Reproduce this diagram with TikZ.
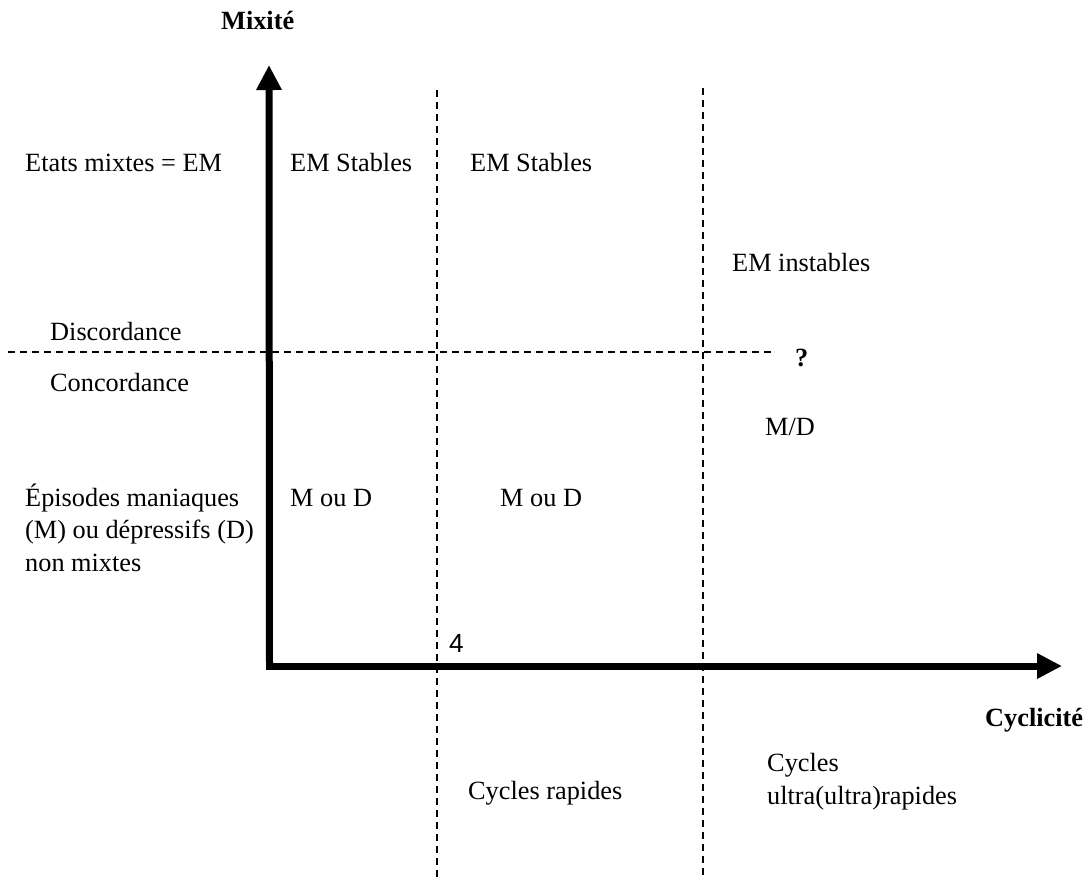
\documentclass[tikz,border=0pt]{standalone}
\usepackage{fontspec}
\setmainfont{Liberation Serif}
\newfontfamily\digitfont{Liberation Sans}
\usepackage{tikz}
\usetikzlibrary{arrows.meta}

\tikzset{
  axis/.style={line width=7pt, -{Triangle[length=25pt,width=24pt]}},
  border/.style={line width=1.3pt, dash pattern=on 7pt off 5pt},
  lbl/.style={anchor=base west, inner sep=0pt, align=left,
    font=\fontsize{26.3}{32.5}\selectfont},
  title/.style={lbl, font=\fontsize{26.3}{32.5}\selectfont\bfseries}
}

\begin{document}
\begin{tikzpicture}[x=1pt, y=-1pt]
        \useasboundingbox (0,0) rectangle (1089,879);

        % axes
        \coordinate (O) at (266,666);
        \coordinate (ytip) at (269,65);
        \coordinate (xtip) at (1062,666);
        \draw[axis] ([xshift=3.5pt]O) -- (ytip);
        \draw[axis] (O) -- (xtip);

        % zone borders
        \coordinate (v1top) at (437,90);
        \coordinate (v1bot) at (437,879);
        \coordinate (v2top) at (703,88);
        \coordinate (v2bot) at (703,879);
        \coordinate (hleft) at (8,352);
        \coordinate (hright) at (773,352);
        \draw[border] (v1top) -- (v1bot);
        \draw[border] (v2top) -- (v2bot);
        \draw[border] (hleft) -- (hright);

        % axis titles
        \node[title] (mix) at (221,29) {Mixité};
        \node[title] (cyc) at (985,726) {Cyclicité};
        \node[title] (qm) at (795,366) {?};

        % left column (multi-line nodes sit on their last line)
        \node[lbl] (em) at (25,171) {Etats mixtes = EM};
        \node[lbl] (disc) at (50,340) {Discordance};
        \node[lbl] (conc) at (50,391) {Concordance};
        \node[lbl] (epi) at (25,571) {Épisodes maniaques\\(M) ou dépressifs (D)\\non mixtes};

        % zones
        \node[lbl] (stA) at (290,171) {EM Stables};
        \node[lbl] (stB) at (470,171) {EM Stables};
        \node[lbl] (inst) at (732,271) {EM instables};
        \node[lbl] (md) at (765,435) {M/D};
        \node[lbl] (mdA) at (290,506) {M ou D};
        \node[lbl] (mdB) at (500,506) {M ou D};
        \node[lbl, font=\fontsize{26.3}{32.5}\selectfont\digitfont] (four) at (449,652) {4};

        % below the axis
        \node[lbl] (rap) at (468,799) {Cycles rapides};
        \node[lbl] (urap) at (767,804) {Cycles\\ultra(ultra)rapides};
    \end{tikzpicture}
\end{document}
